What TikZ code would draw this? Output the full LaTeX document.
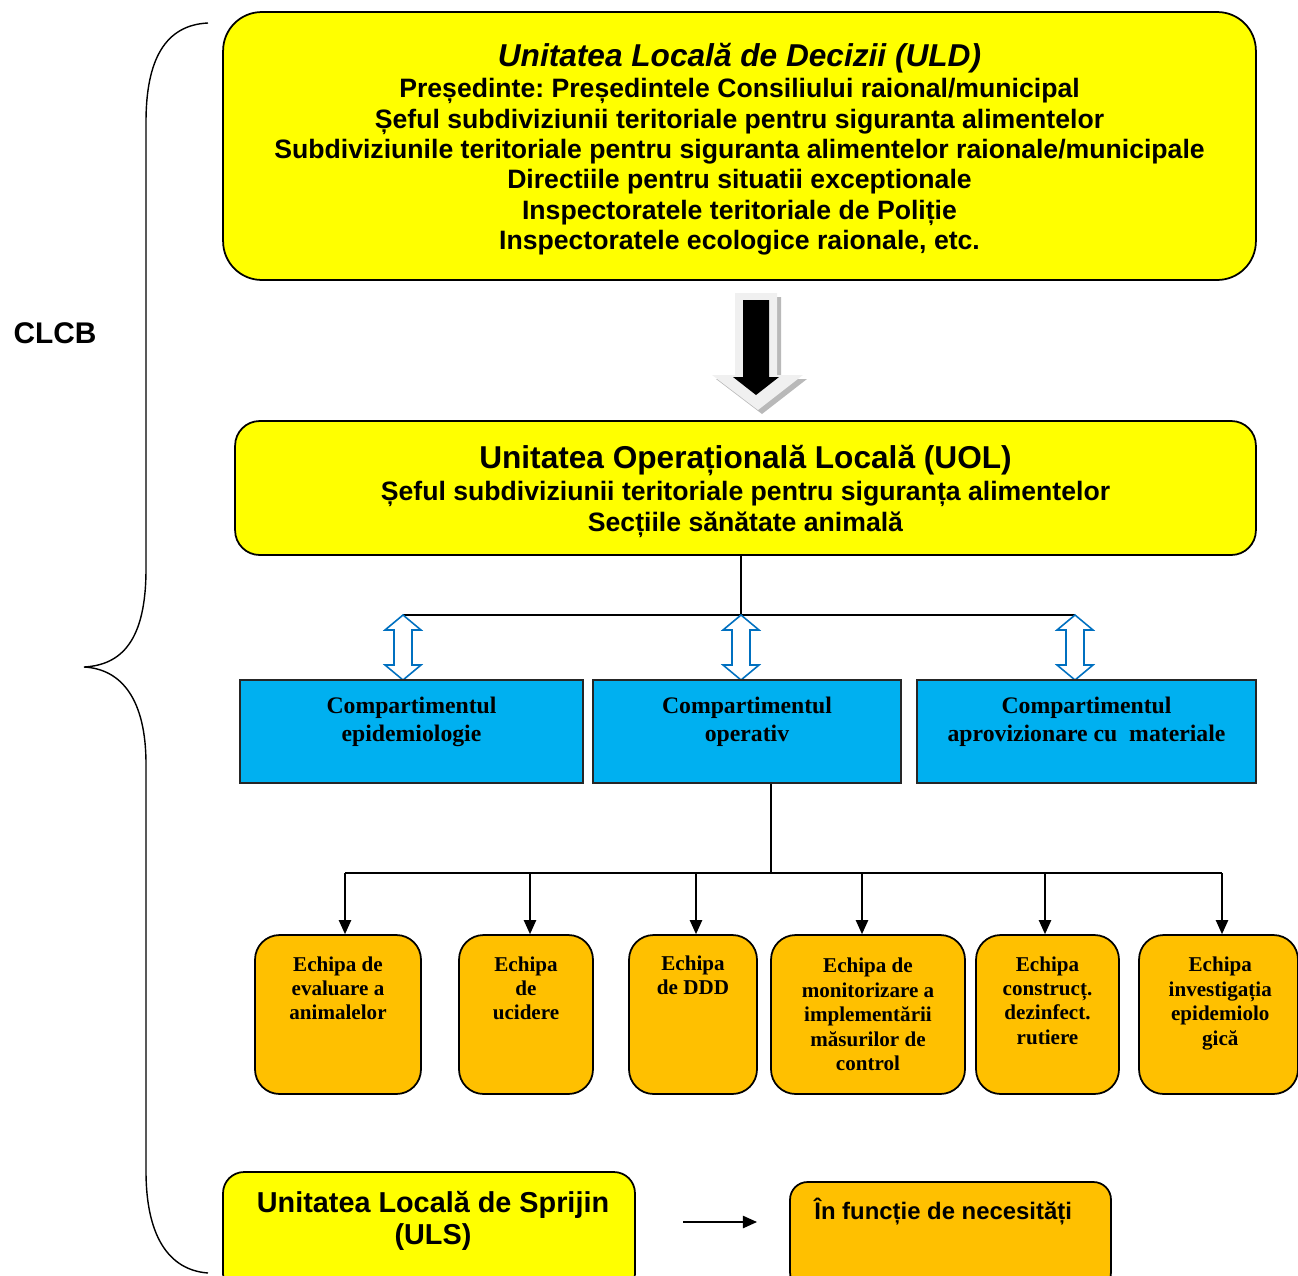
\documentclass[tikz,border=0pt]{standalone}
\usepackage{fontspec}
\setmainfont{Liberation Serif}
\setsansfont{Liberation Sans}
\usetikzlibrary{positioning,arrows.meta}
\frenchspacing

\definecolor{uldyellow}{HTML}{FFFF00}
\definecolor{teamorange}{HTML}{FFC000}
\definecolor{compblue}{HTML}{00B0F0}
\definecolor{arrowblue}{HTML}{0070C0}

\tikzset{
  unitbox/.style={draw, line width=1pt, fill=uldyellow, rounded corners=14pt, inner sep=0pt},
  compbox/.style={draw=black!85, line width=1pt, fill=compblue, inner sep=0pt, minimum height=2.06cm},
  teambox/.style={draw, line width=1pt, fill=teamorange, rounded corners=14pt, inner sep=0pt, minimum height=3.18cm},
  headtxt/.style={font=\sffamily\bfseries\fontsize{18}{21}\selectfont, inner sep=0pt, anchor=base},
  bodytxt/.style={font=\sffamily\bfseries\fontsize{15.15}{17.3}\selectfont, align=center, inner sep=0pt, anchor=north},
  comptxt/.style={font=\bfseries\fontsize{13.5}{15.9}\selectfont, align=center, inner sep=0pt},
  teamtxt/.style={font=\bfseries\fontsize{12}{13.9}\selectfont, align=center, inner sep=0pt},
  link/.style={line width=0.85pt},
  down/.style={line width=0.85pt, -{Triangle[width=7pt,length=8pt]}},
  dblarrow/.pic={\draw[arrowblue, line width=0.9pt, fill=white] (0,0) -- (18,15) -- (9,15) -- (9,50) -- (18,50) -- (0,65) -- (-18,50) -- (-9,50) -- (-9,15) -- (-18,15) -- cycle;}
}

\begin{document}
\begin{tikzpicture}[x=0.02cm, y=-0.02cm]
\useasboundingbox (0,0) rectangle (1298,1275);
\clip (0,0) rectangle (1298,1275);

% brace
\draw[line width=0.8pt] (208,23) .. controls (165,25) and (146,60) .. (146,122) -- (146,569) .. controls (146,640) and (122,665) .. (84,667) .. controls (122,669) and (146,700) .. (146,764) -- (146,1171) .. controls (146,1235) and (168,1270) .. (208,1273);
\node[font=\sffamily\bfseries\fontsize{17}{20}\selectfont] (clcb) at (55,333) {CLCB};

% ULD
\node[unitbox, rounded corners=22pt, minimum width=20.66cm, minimum height=5.36cm] (uld) at (739.5,146) {};
\node[headtxt] (uldtitle) at (739.5,66) {\textit{Unitatea Locală de Decizii (ULD)}};
\node[bodytxt] (uldbody) at (739.5,78) {Președinte: Președintele Consiliului raional/municipal\\
Șeful subdiviziunii teritoriale pentru siguranta alimentelor\\
Subdiviziunile teritoriale pentru siguranta alimentelor raionale/municipale\\
Directiile pentru situatii exceptionale\\
Inspectoratele teritoriale de Poliție\\
Inspectoratele ecologice raionale, etc.};

% big arrow
\fill[gray!55] (739,297) -- (781,297) -- (781,379) -- (807,379) -- (762,414) -- (716,379) -- (739,379) -- cycle;
\fill[gray!12] (735,293) -- (777,293) -- (777,375) -- (803,375) -- (758,410) -- (712,375) -- (735,375) -- cycle;
\fill[black] (743,300) -- (769,300) -- (769,377) -- (779,377) -- (756,395) -- (733,377) -- (743,377) -- cycle;

% UOL
\node[unitbox, minimum width=20.42cm, minimum height=2.68cm] (uol) at (745.5,488) {};
\node[headtxt] (uoltitle) at (745.5,468) {Unitatea Operațională Locală (UOL)};
\node[bodytxt] (uolbody) at (745.5,481) {Șeful subdiviziunii teritoriale pentru siguranța alimentelor\\
Secțiile sănătate animală};

% bus to compartments
\coordinate (b0) at (741,615);
\coordinate (b1) at (403,615);
\coordinate (b3) at (1075,615);
\draw[link] (uol.south -| b0) -- (b0);
\draw[link] (b1) -- (b3);
\pic at (b1) {dblarrow};
\pic at (b0) {dblarrow};
\pic at (b3) {dblarrow};

% compartments
\node[compbox, minimum width=6.86cm] (epid) at (411.5,731.5) {};
\node[compbox, minimum width=6.16cm] (oper) at (747,731.5) {};
\node[compbox, minimum width=6.78cm] (aprov) at (1086.5,731.5) {};
\node[comptxt, below=10pt of epid.north] (epidtxt) {Compartimentul\\epidemiologie};
\node[comptxt, below=10pt of oper.north] (opertxt) {Compartimentul\\operativ};
\node[comptxt, below=10pt of aprov.north] (aprovtxt) {Compartimentul\\aprovizionare cu\ \ materiale};

% teams
\node[teambox, minimum width=3.32cm] (eval) at (338,1014.5) {};
\node[teambox, minimum width=2.68cm] (ucid) at (526,1014.5) {};
\node[teambox, minimum width=2.56cm] (ddd) at (693,1014.5) {};
\node[teambox, minimum width=3.88cm] (monit) at (868,1014.5) {};
\node[teambox, minimum width=2.86cm] (constr) at (1047.5,1014.5) {};
\node[teambox, minimum width=3.18cm] (invest) at (1218.5,1014.5) {};
\node[teamtxt, below=12.5pt of eval.north] (evaltxt) {Echipa de\\evaluare a\\animalelor};
\node[teamtxt, below=12.5pt of ucid.north] (ucidtxt) {Echipa\\de\\ucidere};
\node[teamtxt, below=12pt of ddd.north] (dddtxt) {Echipa\\de DDD};
\node[teamtxt, below=13.5pt of monit.north] (monittxt) {Echipa de\\monitorizare a\\implementării\\măsurilor de\\control};
\node[teamtxt, below=12.5pt of constr.north] (constrtxt) {Echipa\\construcț.\\dezinfect.\\rutiere};
\node[teamtxt, below=13pt of invest.north, xshift=1pt] (investtxt) {Echipa\\investigația\\epidemiolo\\gică};

\coordinate (c0) at (771,873);
\coordinate (t1) at (345,873);
\coordinate (t2) at (530,873);
\coordinate (t3) at (696,873);
\coordinate (t4) at (862,873);
\coordinate (t5) at (1045,873);
\coordinate (t6) at (1222,873);
\draw[link] (oper.south -| c0) -- (c0);
\draw[link] (t1) -- (t6);
\draw[down] (t1) -- (t1 |- eval.north);
\draw[down] (t2) -- (t2 |- ucid.north);
\draw[down] (t3) -- (t3 |- ddd.north);
\draw[down] (t4) -- (t4 |- monit.north);
\draw[down] (t5) -- (t5 |- constr.north);
\draw[down] (t6) -- (t6 |- invest.north);

% ULS
\node[unitbox, rounded corners=12pt, minimum width=8.24cm, minimum height=2.46cm] (uls) at (429,1233.5) {};
\node[bodytxt, font=\sffamily\bfseries\fontsize{16.4}{18.1}\selectfont] (ulstxt) at (433,1191) {Unitatea Locală de Sprijin\\(ULS)};
\coordinate (s1) at (683,1222);
\coordinate (s2) at (757,1222);
\draw[down] (s1) -- (s2);
\node[teambox, rounded corners=10pt, minimum width=6.42cm, minimum height=2.16cm] (nec) at (950.5,1236) {};
\node[font=\sffamily\bfseries\fontsize{13.6}{16}\selectfont, inner sep=0pt, anchor=base west] (nectxt) at (814,1219.5) {În funcție de necesități};
\end{tikzpicture}
\end{document}
